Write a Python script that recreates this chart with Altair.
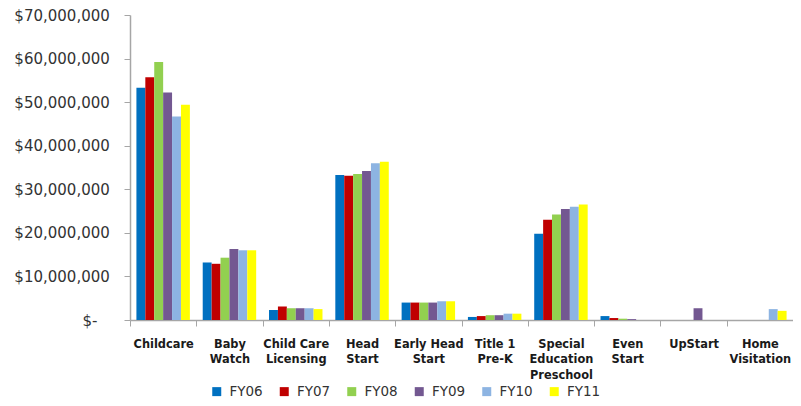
import json
import altair as alt
import pandas as pd

categories = ["Childcare", "Baby Watch", "Child Care Licensing", "Head Start",
              "Early Head Start", "Title 1 Pre-K", "Special Education Preschool",
              "Even Start", "UpStart", "Home Visitation"]
label_lines = {
    "Childcare": ["Childcare"],
    "Baby Watch": ["Baby", "Watch"],
    "Child Care Licensing": ["Child Care", "Licensing"],
    "Head Start": ["Head", "Start"],
    "Early Head Start": ["Early Head", "Start"],
    "Title 1 Pre-K": ["Title 1", "Pre-K"],
    "Special Education Preschool": ["Special", "Education", "Preschool"],
    "Even Start": ["Even", "Start"],
    "UpStart": ["UpStart"],
    "Home Visitation": ["Home", "Visitation"],
}
years = ["FY06", "FY07", "FY08", "FY09", "FY10", "FY11"]
colors = ["#0070C0", "#C00000", "#92D050", "#735891", "#8DB4E2", "#FFFF00"]

fy06 = [53.3e6, 13.2e6, 2.3e6, 33.3e6, 4.0e6, 0.7e6, 19.8e6, 0.9e6, 0, 0]
fy07 = [55.7e6, 12.9e6, 3.1e6, 33.1e6, 4.0e6, 0.9e6, 23.0e6, 0.45e6, 0, 0]
fy08 = [59.2e6, 14.3e6, 2.7e6, 33.5e6, 4.0e6, 1.1e6, 24.2e6, 0.3e6, 0, 0]
fy09 = [52.2e6, 16.3e6, 2.7e6, 34.2e6, 4.0e6, 1.1e6, 25.5e6, 0.2e6, 2.7e6, 0]
fy10 = [46.7e6, 16.0e6, 2.7e6, 36.0e6, 4.3e6, 1.45e6, 26.0e6, 0, 0, 2.5e6]
fy11 = [49.4e6, 16.0e6, 2.5e6, 36.3e6, 4.3e6, 1.45e6, 26.5e6, 0, 0, 2.1e6]
series = [fy06, fy07, fy08, fy09, fy10, fy11]

rows = []
for yr, vals in zip(years, series):
    for cat, v in zip(categories, vals):
        rows.append({"program": cat, "year": yr, "amount": v})
df = pd.DataFrame(rows)

label_expr = json.dumps(label_lines) + "[datum.label]"
y_ticks = [i * 10_000_000 for i in range(8)]
FONT = "DejaVu Sans"

chart = alt.Chart(df).mark_bar().encode(
    x=alt.X("program:N", sort=categories, title=None,
            scale=alt.Scale(paddingInner=0, paddingOuter=0),
            axis=alt.Axis(labelAngle=0, labelExpr=label_expr, tickBand="extent",
                          labelFont=FONT, labelFontSize=11.4, labelFontWeight="bold",
                          labelColor="#1a1a1a", labelLineHeight=15.5, labelPadding=12,
                          labelBaseline="top",
                          tickSize=6, tickColor="#A6A6A6", domainColor="#A6A6A6",
                          domainWidth=1.5, labelLimit=200)),
    xOffset=alt.XOffset("year:N", sort=years,
                        scale=alt.Scale(paddingInner=0, paddingOuter=0.72)),
    y=alt.Y("amount:Q", title=None,
            scale=alt.Scale(domain=[0, 70_000_000], nice=False),
            axis=alt.Axis(values=y_ticks, grid=False,
                          labelExpr="datum.value == 0 ? '$-' : '$' + format(datum.value, ',')",
                          labelFont=FONT, labelFontSize=15, labelColor="#333333",
                          labelPadding={"condition": {"test": "datum.value == 0", "value": 27},
                                        "value": 14.7},
                          tickSize=6, tickColor="#A6A6A6",
                          domainColor="#A6A6A6", domainWidth=1.5)),
    color=alt.Color("year:N", sort=years, title=None,
                    scale=alt.Scale(domain=years, range=colors),
                    legend=alt.Legend(orient="none", direction="horizontal",
                                      legendX=80, legendY=369.5,
                                      symbolType="square", symbolSize=81,
                                      symbolStrokeWidth=0, labelFont=FONT,
                                      labelFontSize=13.5, labelColor="#333333",
                                      labelOffset=6, columnPadding=14.5)),
).properties(
    width=663, height=305,
    autosize=alt.AutoSizeParams(type="none"),
    padding={"left": 122, "top": 7, "right": 0, "bottom": 78},
).configure_view(stroke=None)

chart.save("out.html", embed_options={"renderer": "svg", "actions": False})
